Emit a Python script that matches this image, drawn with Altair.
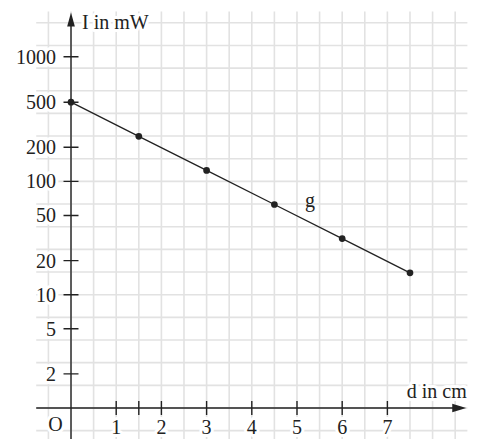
import altair as alt
import pandas as pd

# ---- data ----
d_cm = [0, 1.5, 3, 4.5, 6, 7.5]
I_mW = [500, 250, 125, 62.5, 31.25, 15.6]

x_tick_vals = [1, 1.5, 2, 3, 4, 5, 6, 7]
x_label_vals = [1, 2, 3, 4, 5, 6, 7]
x_labels = ["1", "2", "3", "4", "5", "6", "7"]

y_tick_vals = [2, 5, 10, 20, 50, 100, 200, 500, 1260]
y_labels = ["2", "5", "10", "20", "50", "100", "200", "500", "1000"]

# graph-paper grid (0.5 cm horizontally, 0.2 decade vertically)
grid_x = [-0.5 + 0.5 * i for i in range(19)]
grid_y = [10 ** (0.2 * k) for k in range(-1, 18)]

# ---- layout / style ----
W, H = 480, 439
X_DOM = [-1.571, 9.049]
Y_DOM = [0.5325, 3990]
FONT = "Liberation Serif"
FS = 20
GRID = "#e2e2e2"
INK = "#222222"

xs = alt.Scale(domain=X_DOM, nice=False, zero=False)
ys = alt.Scale(type="log", domain=Y_DOM, nice=False)


def X(f):
    return alt.X(f, type="quantitative", scale=xs, axis=None)


def Y(f):
    return alt.Y(f, type="quantitative", scale=ys, axis=None)


def X2(f):
    return alt.X2(f)


def Y2(f):
    return alt.Y2(f)


grid_v = alt.Chart(pd.DataFrame({"x": grid_x, "ya": 3162, "yb": 0.5})).mark_rule(
    color=GRID, strokeWidth=1.6
).encode(x=X("x"), y=Y("ya"), y2=Y2("yb"))

grid_h = alt.Chart(pd.DataFrame({"y": grid_y, "xa": -0.77, "xb": 8.77})).mark_rule(
    color=GRID, strokeWidth=1.6
).encode(y=Y("y"), x=X("xa"), x2=X2("xb"))

x_axis = alt.Chart(pd.DataFrame({"xa": [-0.77], "xb": [8.59], "y": [1]})).mark_rule(
    color=INK, strokeWidth=1.4
).encode(x=X("xa"), x2=X2("xb"), y=Y("y"))

y_axis = alt.Chart(pd.DataFrame({"x": [0], "ya": [0.5], "yb": [2685]})).mark_rule(
    color=INK, strokeWidth=1.4
).encode(x=X("x"), y=Y("ya"), y2=Y2("yb"))

y_arrow = alt.Chart(pd.DataFrame({"x": [0], "y": [2685]})).mark_point(
    shape="M0,-1L-0.55,1L0.55,1Z", filled=True, size=196, color=INK, opacity=1
).encode(x=X("x"), y=Y("y"))

x_arrow = alt.Chart(pd.DataFrame({"x": [8.59], "y": [1]})).mark_point(
    shape="M1,0L-1,-0.6L-1,0.6Z", filled=True, size=196, color=INK, opacity=1
).encode(x=X("x"), y=Y("y"))

y_ticks = alt.Chart(pd.DataFrame({"y": y_tick_vals, "x": 0})).mark_tick(
    orient="horizontal", size=15, thickness=1.4, color=INK, opacity=1
).encode(y=Y("y"), x=X("x"))

x_ticks = alt.Chart(pd.DataFrame({"x": x_tick_vals, "y": 1})).mark_tick(
    orient="vertical", size=14, thickness=1.4, color=INK, opacity=1
).encode(x=X("x"), y=Y("y"))


def halo_text(df, **kw):
    enc = dict(x=X("x"), y=Y("y"), text="t:N")
    back = alt.Chart(df).mark_text(
        font=FONT, fontSize=FS, color="white", stroke="white",
        strokeWidth=6, strokeJoin="round", **kw
    ).encode(**enc)
    front = alt.Chart(df).mark_text(
        font=FONT, fontSize=FS, color=INK, **kw
    ).encode(**enc)
    return [back, front]


y_lab = halo_text(
    pd.DataFrame({"y": y_tick_vals, "x": 0, "t": y_labels}),
    align="right", baseline="alphabetic", dx=-15, dy=7,
)
x_lab = halo_text(
    pd.DataFrame({"x": x_label_vals, "y": 1, "t": x_labels}),
    align="center", baseline="alphabetic", dy=26,
)
o_lab = halo_text(
    pd.DataFrame({"x": [0], "y": [1], "t": ["O"]}),
    align="center", baseline="alphabetic", dx=-15.5, dy=23.5,
)
i_lab = halo_text(
    pd.DataFrame({"x": [0], "y": [2199], "t": ["I in mW"]}),
    align="left", baseline="alphabetic", dx=11,
)
d_lab = halo_text(
    pd.DataFrame({"x": [8.755], "y": [1], "t": ["d in cm"]}),
    align="right", baseline="alphabetic", dy=-10,
)

g_lab = alt.Chart(pd.DataFrame({"x": [5.29], "y": [59.4], "t": ["g"]})).mark_text(
    font=FONT, fontSize=FS, color=INK, align="center", baseline="alphabetic"
).encode(x=X("x"), y=Y("y"), text="t:N")

df = pd.DataFrame({"d": d_cm, "I": I_mW})
line = alt.Chart(df).mark_line(color=INK, strokeWidth=1.3).encode(x=X("d"), y=Y("I"))
pts = alt.Chart(df).mark_circle(color=INK, size=45, opacity=1).encode(x=X("d"), y=Y("I"))

layers = [grid_v, grid_h, x_axis, y_axis, y_arrow, x_arrow, y_ticks, x_ticks]
layers += y_lab + x_lab + o_lab + i_lab + d_lab + [g_lab, line, pts]

chart = alt.layer(*layers).properties(
    width=W, height=H, padding=0, autosize="none", background="white"
).configure_view(stroke=None)

chart.save("out.html", embed_options={"renderer": "svg", "actions": False})
